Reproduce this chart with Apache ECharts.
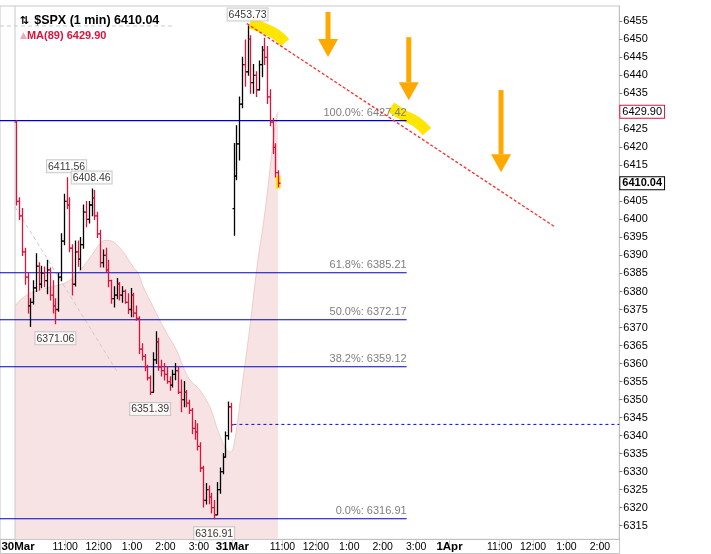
<!DOCTYPE html>
<html><head><meta charset="utf-8">
<script src="https://cdn.jsdelivr.net/npm/echarts@6/dist/echarts.min.js"></script>
<style>html,body{margin:0;padding:0;background:#fff}#c{width:711px;height:554px}</style>
</head><body><div id="c"></div>
<script>
// ---- data (5-minute OHLC approximation of the 1-min chart) ----
// minutes counted in trading time: 30Mar 9:30 = 0, 31Mar 9:30 = 390, 1Apr 9:30 = 780
const barMinutes = 5;
const day30Start = 0;
const day31Start = 390;
// [open, high, low, close]
const bars30 = [
 [6427.0,6427.42,6404.0,6405.0],[6405.0,6406.0,6400.0,6401.0],[6401.0,6403.0,6390.0,6391.0],[6391.0,6392.0,6382.0,6384.0],
 [6384.0,6385.0,6374.0,6376.0],[6376.0,6378.0,6370.3,6377.0],[6377.0,6383.0,6376.5,6381.0],[6381.0,6390.5,6380.0,6387.0],
 [6387.0,6388.0,6380.4,6382.0],[6382.0,6387.0,6381.0,6385.0],[6385.0,6386.8,6381.3,6383.0],[6383.0,6388.7,6379.4,6386.0],
 [6386.0,6386.5,6377.6,6379.0],[6379.0,6383.0,6374.0,6376.0],[6376.0,6378.0,6371.06,6375.0],[6375.0,6385.0,6374.5,6384.0],
 [6384.0,6396.0,6383.0,6394.0],[6394.0,6407.0,6393.0,6405.0],[6405.0,6411.56,6403.0,6404.0],[6404.0,6406.0,6391.0,6392.0],
 [6392.0,6393.0,6379.0,6382.0],[6382.0,6394.0,6381.5,6391.0],[6391.0,6394.0,6387.0,6389.0],[6389.0,6395.0,6386.0,6393.0],
 [6393.0,6404.0,6392.0,6402.0],[6402.0,6405.0,6398.0,6400.0],[6400.0,6405.0,6399.0,6404.0],[6404.0,6408.46,6401.0,6406.0],
 [6406.0,6408.0,6400.0,6401.0],[6401.0,6402.0,6395.0,6396.0],[6396.0,6397.0,6386.8,6388.0],[6388.0,6391.5,6386.8,6390.0],
 [6390.0,6392.0,6385.5,6386.0],[6386.0,6388.7,6381.3,6383.0],[6383.0,6383.1,6376.7,6378.0],[6378.0,6381.3,6375.7,6379.0],
 [6379.0,6383.6,6378.0,6382.0],[6382.0,6382.5,6377.6,6379.0],[6379.0,6381.3,6377.0,6380.0],[6380.0,6380.4,6376.7,6377.0],
 [6377.0,6379.4,6373.9,6375.0],[6375.0,6380.8,6373.0,6379.0],[6379.0,6379.5,6373.0,6374.0],[6374.0,6376.0,6372.0,6372.5],
 [6372.5,6373.0,6362.8,6364.0],[6364.0,6365.5,6361.0,6362.0],[6362.0,6362.5,6358.0,6359.0],[6359.0,6359.5,6355.4,6356.0],
 [6356.0,6356.5,6351.39,6352.0],[6352.0,6363.0,6352.0,6361.0],[6361.0,6368.8,6360.0,6366.0],[6366.0,6367.0,6358.1,6359.0],
 [6359.0,6360.9,6356.5,6358.0],[6358.0,6360.0,6355.4,6357.0],[6357.0,6359.1,6354.5,6355.0],[6355.0,6356.3,6352.6,6354.0],
 [6354.0,6358.1,6353.5,6357.0],[6357.0,6360.0,6355.5,6358.0],[6358.0,6359.0,6351.7,6352.0],[6352.0,6355.4,6346.6,6350.0],
 [6350.0,6355.0,6348.0,6352.0],[6352.0,6352.5,6348.0,6349.0],[6349.0,6349.8,6346.1,6347.0],[6347.0,6347.5,6340.5,6342.0],
 [6342.0,6344.2,6339.0,6341.0],[6341.0,6343.3,6336.0,6337.0],[6337.0,6338.0,6330.0,6331.0],[6331.0,6331.5,6320.2,6322.0],
 [6322.0,6326.7,6321.0,6325.0],[6325.0,6326.0,6321.1,6323.0],[6323.0,6324.0,6318.5,6320.0],[6320.0,6322.0,6316.91,6318.0],
 [6318.0,6327.0,6318.0,6325.0],[6325.0,6331.0,6324.0,6330.0],[6330.0,6335.0,6329.4,6334.0],[6334.0,6341.0,6334.0,6340.0],
 [6340.0,6349.3,6339.0,6348.0],[6348.0,6349.0,6341.0,6343.0]
];
const bars31 = [
 [6403.0,6421.1,6395.6,6412.0],[6412.0,6426.0,6411.0,6421.0],[6421.0,6434.0,6416.5,6432.0],[6432.0,6445.0,6431.0,6443.0],
 [6443.0,6449.8,6437.0,6441.0],[6441.0,6453.73,6440.0,6450.0],[6450.0,6451.0,6435.0,6438.0],[6438.0,6443.0,6435.0,6440.0],
 [6440.0,6441.0,6434.1,6436.0],[6436.0,6444.0,6435.9,6443.0],[6443.0,6448.0,6439.6,6447.0],[6447.0,6450.3,6443.0,6445.0],
 [6445.0,6448.0,6432.2,6434.0],[6434.0,6436.0,6426.0,6427.0],[6427.0,6428.0,6418.3,6420.0],[6420.0,6421.0,6411.8,6413.0],
 [6413.0,6413.5,6409.1,6410.04]
];
const lastClose = 6410.04;
const lastMA = 6429.90;
const prevClose = 6343.1;

// MA(89) curve [minute, value]
const maCurve = [
 [0,6375.9],[9,6377.6],[27,6379.5],[63,6381.2],[93,6382.6],[117,6385.9],[135,6389.5],[153,6393.4],
 [162,6394.2],[176,6393.8],[194,6391.0],[212,6386.8],[221,6385.1],[230,6381.3],[248,6375.7],[260,6372.0],
 [273,6368.2],[290,6363.7],[302,6359.0],[314,6355.4],[332,6352.6],[350,6347.9],[364,6341.5],[377,6336.8],
 [386,6335.4],[391,6336.0],[400,6344.3],[409,6355.4],[417,6364.5],[422,6370.6],[436,6388.7],[445,6397.9],
 [452,6406.2],[461,6418.4],[469,6428.4],[472,6429.9]
];

// Fibonacci retracement
const fibPct = ['100.0%','61.8%','50.0%','38.2%','0.0%'];
const fibLevel = [6427.42,6385.21,6372.17,6359.12,6316.91];
const fibFrom = -27, fibTo = 703;

// annotated extremes
const extT = [417.5, 92.5, 137.5, 72.5, 242.5, 357.5];
const extP = [6453.73, 6411.56, 6408.46, 6371.06, 6351.39, 6316.91];
const extPos = ['top','top','top','bottom','bottom','bottom'];

// drawn lines [minute, price]
const redTrend = [[416,6454.4],[969.5,6397.9]];
const grayDiag = [[0,6403.5],[185.5,6357.2]];
const grayFlat = [[-27,6453.7],[284,6453.7]];
const closeLine = [[392,prevClose],[1084.8,prevClose]];
const hl1 = [[421.8,6454.5],[443.4,6453.3],[468.5,6451.4],[484.7,6449.1]];
const hl2 = [[674.9,6431.2],[696.5,6429.0],[721.6,6427.0],[739.5,6424.4]];
const hl3 = [[472.5,6412.1],[472.5,6408.6]];
// arrows: [minute, top price, tip price]
const arrows = [[561.9,6457.6,6445.1],[706.8,6450.6,6433.1],[872.5,6435.9,6413.1]];

// axes
const xMin = -27, xMax = 1084.8;
const yMin = 6311.2, yMax = 6459.25;
const xTickT = [0,90,150,210,270,330,390,480,540,600,660,720,780,870,930,990,1050];
const xTickLab = ['30Mar','11:00','12:00','1:00','2:00','3:00','31Mar','11:00','12:00','1:00','2:00','3:00','1Apr','11:00','12:00','1:00','2:00'];
const yTicks = [6315,6320,6325,6330,6335,6340,6345,6350,6355,6360,6365,6370,6375,6380,6385,6390,6395,6400,6405,6415,6420,6425,6435,6440,6445,6450,6455];

// ---- build ----
const ohlc = [];
bars30.forEach((b,i)=>ohlc.push([day30Start + i*barMinutes + barMinutes/2, b[0], b[1], b[2], b[3]]));
bars31.forEach((b,i)=>ohlc.push([day31Start + i*barMinutes + barMinutes/2, b[0], b[1], b[2], b[3]]));

const FONT = 'Liberation Sans';
const chart = echarts.init(document.getElementById('c'), null, {renderer:'canvas'});

function renderOHLC(params, api){
  const t = api.value(0), o = api.value(1), h = api.value(2), l = api.value(3), c = api.value(4);
  const pH = api.coord([t,h]), pL = api.coord([t,l]), pO = api.coord([t,o]), pC = api.coord([t,c]);
  const col = c >= o ? '#000000' : '#dc143c';
  const x = Math.round(pH[0]) + 0.5;
  const st = {stroke: col, lineWidth: 1.3};
  return {type:'group', children:[
    {type:'line', shape:{x1:x, y1:pH[1]-0.5, x2:x, y2:pL[1]+0.5}, style:st},
    {type:'line', shape:{x1:x-2, y1:pO[1], x2:x, y2:pO[1]}, style:st},
    {type:'line', shape:{x1:x, y1:pC[1], x2:x+2, y2:pC[1]}, style:st}
  ]};
}
function renderArrow(params, api){
  const t = api.value(0);
  const top = api.coord([t, api.value(1)]);
  const tip = api.coord([t, api.value(2)]);
  const headH = 18, headW = 20, shaftW = 5;
  const x = top[0];
  const col = '#ffa800';
  return {type:'group', children:[
    {type:'rect', shape:{x:x-shaftW/2, y:top[1], width:shaftW, height:Math.max(0, tip[1]-headH-top[1])}, style:{fill:col}},
    {type:'polygon', shape:{points:[[x-headW/2, tip[1]-headH],[x+headW/2, tip[1]-headH],[x, tip[1]]]}, style:{fill:col}}
  ]};
}

const tagLabel = (v, border, bold) => ({show:true, position:'end', distance:1, formatter: v.toFixed(2),
  color:'#000', fontFamily:FONT, fontSize:11, fontWeight: bold ? 'bold' : 'normal', opacity:1,
  backgroundColor:'#fff', borderColor:border, borderWidth:1, padding:[1,2,0,2]});

const series = [];
// MA(89) area
series.push({
  type:'line', name:'MA(89)', data: maCurve, symbol:'none', smooth:0.3, z:1,
  lineStyle:{color:'#efcdcd', width:1}, areaStyle:{color:'#f7e3e3', origin:'start', opacity:1},
  markLine:{
    silent:true, symbol:'none', animation:false, z:10,
    lineStyle:{color:'rgba(0,0,0,0)', width:0.01, type:'solid'},
    data:[
      {yAxis:lastMA, label: tagLabel(lastMA, '#dc143c', false)},
      {yAxis:lastClose, label: tagLabel(lastClose, '#000', true)}
    ]
  }
});
// gray dashed helper lines
[grayDiag, grayFlat].forEach(d=>series.push({type:'line', data:d, symbol:'none', z:2, silent:true,
  lineStyle:{color:'#cccccc', width:1, type:[4,3]}}));
// previous close dashed blue
series.push({type:'line', data:closeLine, symbol:'none', z:2, silent:true, lineStyle:{color:'#0000ff', width:1, type:[3,3]}});
// vertical day separator at 30Mar open
series.push({type:'line', data:[[0,yMin],[0,yMax]], symbol:'none', z:2, silent:true, lineStyle:{color:'#c8c8c8', width:1}});
// yellow highlights
[hl1, hl2].forEach(d=>series.push({type:'line', data:d, symbol:'none', smooth:0.4, z:2, silent:true,
  lineStyle:{color:'#ffe600', width:11, cap:'butt'}}));
series.push({type:'line', data:hl3, symbol:'none', z:2, silent:true, lineStyle:{color:'#ffe600', width:5, cap:'butt'}});
// Fibonacci lines
fibLevel.forEach((v,i)=>{
  series.push({
    type:'line',
    data:[
      {value:[fibFrom, v], label:{show:false}},
      {value:[fibTo, v], label:{show:true, position:'top', align:'right', distance:2,
        formatter: fibPct[i] + ': ' + v.toFixed(2), color:'#7f7f7f', fontFamily:FONT, fontSize:11}}
    ],
    symbol:'circle', symbolSize:1, showSymbol:true, itemStyle:{color:'rgba(0,0,0,0)'},
    z:3, silent:true,
    lineStyle:{color:'#0000c8', width:1.1}
  });
});
// OHLC bars
series.push({type:'custom', data: ohlc, renderItem: renderOHLC, encode:{x:0, y:[1,2,3,4]}, z:4, silent:true, clip:true});
// red trendline
series.push({type:'line', data:redTrend, symbol:'none', z:5, silent:true, lineStyle:{color:'#ff2a2a', width:1.3, type:[3,2]}});
// arrows
series.push({type:'custom', data: arrows, renderItem: renderArrow, encode:{x:0, y:[1,2]}, z:6, silent:true, clip:false});
// extreme labels
series.push({
  type:'scatter', z:7, silent:true, symbolSize:1, itemStyle:{color:'rgba(0,0,0,0)'},
  data: extT.map((t,i)=>({value:[t, extP[i]], label:{show:true, position:extPos[i], distance: extPos[i]==='top'?5:8,
    formatter: extP[i].toFixed(2), color:'#000', fontFamily:FONT, fontSize:10.5,
    backgroundColor:'#fff', borderColor:'#bdbdbd', borderWidth:1, padding:[1,1,0,1]}}))
});

chart.setOption({
  animation:false,
  backgroundColor:'#ffffff',
  title:{
    left:15, top:7,
    text:'{i|⇅} {a|$SPX (1 min) ' + lastClose.toFixed(2) + '}\n{m|▲}{b|MA(89) ' + lastMA.toFixed(2) + '}',
    textStyle:{
      rich:{
        i:{fontFamily:'DejaVu Sans', fontSize:11, color:'#000', fontWeight:'bold', lineHeight:12},
        a:{fontFamily:FONT, fontSize:12.5, color:'#000', lineHeight:12},
        m:{fontFamily:'DejaVu Sans', fontSize:9, color:'#f0a8b4', lineHeight:12},
        b:{fontFamily:FONT, fontSize:11, color:'#dc143c', lineHeight:12}
      }
    }
  },
  grid:{left:0, right:91.7, top:6, bottom:14.7, show:true, borderColor:'#c8c8c8', borderWidth:1,
        backgroundColor:'transparent', containLabel:false, outerBoundsMode:'none'},
  xAxis:{
    type:'value', min:xMin, max:xMax,
    splitLine:{show:false},
    axisLine:{show:true, onZero:false, lineStyle:{color:'#c0c0c0'}},
    axisTick:{show:true, customValues:xTickT, length:11, lineStyle:{color:'#cfcfcf'}},
    axisLabel:{
      customValues:xTickT, margin:2, color:'#000', fontFamily:FONT, fontSize:10.5,
      hideOverlap:false,
      formatter:function(v){
        const i = xTickT.indexOf(Math.round(v));
        if(i<0) return '';
        const s = xTickLab[i];
        if(i===0) return '{d0|'+s+'}';
        return /Mar|Apr/.test(s) ? '{d|'+s+'}' : s;
      },
      rich:{
        d:{fontFamily:FONT, fontSize:11.5, fontWeight:'bold', color:'#000'},
        d0:{fontFamily:FONT, fontSize:11.5, fontWeight:'bold', color:'#000', padding:[0,0,0,6]}
      }
    }
  },
  yAxis:{
    type:'value', position:'right', min:yMin, max:yMax, scale:true,
    splitLine:{show:false},
    axisLine:{show:true, onZero:false, lineStyle:{color:'#c0c0c0'}},
    axisTick:{show:true, customValues:yTicks, length:3, lineStyle:{color:'#808080'}},
    axisLabel:{customValues:yTicks, margin:4, color:'#000', fontFamily:FONT, fontSize:11, formatter:function(v){return String(Math.round(v));}}
  },
  graphic:[
    {type:'rect', shape:{x:0.5, y:539.5, width:619, height:14}, style:{fill:null, stroke:'#c8c8c8', lineWidth:1}, z:-1, silent:true}
  ],
  series: series
});
</script>
</body></html>
